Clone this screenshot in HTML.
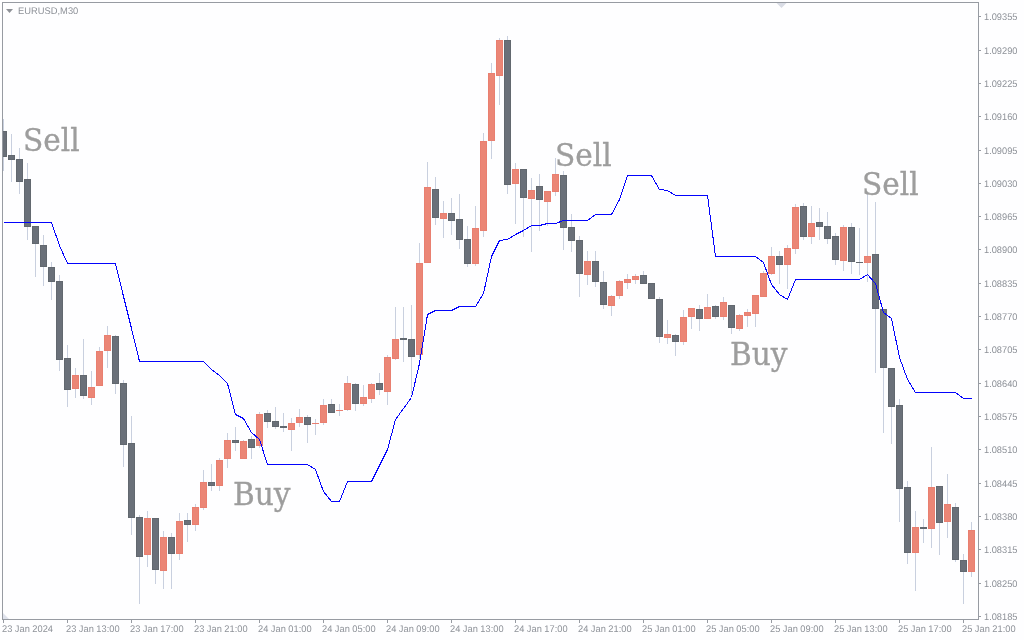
<!DOCTYPE html>
<html><head><meta charset="utf-8"><title>EURUSD,M30</title>
<style>
html,body{margin:0;padding:0;background:#fefeff;}
body{width:1024px;height:640px;position:relative;overflow:hidden;font-family:"Liberation Sans",sans-serif;}
.p,.t,.h{position:absolute;color:#8d9198;font-size:9.6px;line-height:12px;white-space:nowrap;transform-origin:0 50%;transform:scaleX(0.965);text-rendering:geometricPrecision}
.p{left:984.3px}
.t{top:624px}
.h{left:18px;top:6px;transform:scaleX(0.975)}
.s{position:absolute;font-family:"DejaVu Serif","Liberation Serif",serif;font-size:31px;line-height:50px;height:50px;color:#9d9d9d;white-space:nowrap;transform-origin:0 0;transform:scaleX(0.955);-webkit-text-stroke:0.35px #9d9d9d}
</style></head><body>
<svg width="1024" height="640" viewBox="0 0 1024 640" style="position:absolute;left:0;top:0">
<defs><clipPath id="cp"><rect x="3" y="3" width="975" height="616"/></clipPath></defs>
<g clip-path="url(#cp)" shape-rendering="crispEdges">
<rect x="3" y="119" width="1" height="52" fill="#c9d0df"/>
<rect x="11" y="134" width="1" height="48" fill="#c9d0df"/>
<rect x="19" y="148" width="1" height="46" fill="#c9d0df"/>
<rect x="27" y="163" width="1" height="77" fill="#c9d0df"/>
<rect x="35" y="226" width="1" height="51" fill="#c9d0df"/>
<rect x="43" y="235" width="1" height="51" fill="#c9d0df"/>
<rect x="51" y="262" width="1" height="38" fill="#c9d0df"/>
<rect x="59" y="275" width="1" height="96" fill="#c9d0df"/>
<rect x="67" y="345" width="1" height="62" fill="#c9d0df"/>
<rect x="75" y="368" width="1" height="30" fill="#c9d0df"/>
<rect x="83" y="339" width="1" height="60" fill="#c9d0df"/>
<rect x="91" y="371" width="1" height="34" fill="#c9d0df"/>
<rect x="99" y="347" width="1" height="39" fill="#c9d0df"/>
<rect x="107" y="326" width="1" height="42" fill="#c9d0df"/>
<rect x="115" y="335" width="1" height="59" fill="#c9d0df"/>
<rect x="123" y="380" width="1" height="87" fill="#c9d0df"/>
<rect x="131" y="416" width="1" height="119" fill="#c9d0df"/>
<rect x="139" y="515" width="1" height="89" fill="#c9d0df"/>
<rect x="147" y="511" width="1" height="56" fill="#c9d0df"/>
<rect x="155" y="518" width="1" height="66" fill="#c9d0df"/>
<rect x="163" y="531" width="1" height="58" fill="#c9d0df"/>
<rect x="171" y="533" width="1" height="56" fill="#c9d0df"/>
<rect x="179" y="513" width="1" height="47" fill="#c9d0df"/>
<rect x="187" y="513" width="1" height="29" fill="#c9d0df"/>
<rect x="195" y="504" width="1" height="27" fill="#c9d0df"/>
<rect x="203" y="470" width="1" height="40" fill="#c9d0df"/>
<rect x="211" y="464" width="1" height="27" fill="#c9d0df"/>
<rect x="219" y="458" width="1" height="33" fill="#c9d0df"/>
<rect x="227" y="433" width="1" height="35" fill="#c9d0df"/>
<rect x="235" y="427" width="1" height="24" fill="#c9d0df"/>
<rect x="243" y="440" width="1" height="19" fill="#c9d0df"/>
<rect x="251" y="436" width="1" height="23" fill="#c9d0df"/>
<rect x="259" y="412" width="1" height="36" fill="#c9d0df"/>
<rect x="267" y="410" width="1" height="18" fill="#c9d0df"/>
<rect x="275" y="407" width="1" height="22" fill="#c9d0df"/>
<rect x="283" y="413" width="1" height="19" fill="#c9d0df"/>
<rect x="291" y="418" width="1" height="33" fill="#c9d0df"/>
<rect x="299" y="409" width="1" height="18" fill="#c9d0df"/>
<rect x="307" y="415" width="1" height="28" fill="#c9d0df"/>
<rect x="315" y="419" width="1" height="16" fill="#c9d0df"/>
<rect x="323" y="399" width="1" height="26" fill="#c9d0df"/>
<rect x="331" y="399" width="1" height="14" fill="#c9d0df"/>
<rect x="339" y="404" width="1" height="12" fill="#c9d0df"/>
<rect x="347" y="376" width="1" height="35" fill="#c9d0df"/>
<rect x="355" y="383" width="1" height="28" fill="#c9d0df"/>
<rect x="363" y="385" width="1" height="21" fill="#c9d0df"/>
<rect x="371" y="383" width="1" height="20" fill="#c9d0df"/>
<rect x="379" y="373" width="1" height="22" fill="#c9d0df"/>
<rect x="387" y="355" width="1" height="50" fill="#c9d0df"/>
<rect x="395" y="307" width="1" height="53" fill="#c9d0df"/>
<rect x="403" y="307" width="1" height="55" fill="#c9d0df"/>
<rect x="411" y="305" width="1" height="89" fill="#c9d0df"/>
<rect x="419" y="243" width="1" height="116" fill="#c9d0df"/>
<rect x="427" y="162" width="1" height="101" fill="#c9d0df"/>
<rect x="435" y="177" width="1" height="48" fill="#c9d0df"/>
<rect x="443" y="201" width="1" height="37" fill="#c9d0df"/>
<rect x="451" y="198" width="1" height="37" fill="#c9d0df"/>
<rect x="459" y="194" width="1" height="55" fill="#c9d0df"/>
<rect x="467" y="226" width="1" height="41" fill="#c9d0df"/>
<rect x="475" y="206" width="1" height="60" fill="#c9d0df"/>
<rect x="483" y="133" width="1" height="104" fill="#c9d0df"/>
<rect x="491" y="63" width="1" height="96" fill="#c9d0df"/>
<rect x="499" y="38" width="1" height="67" fill="#c9d0df"/>
<rect x="507" y="36" width="1" height="158" fill="#c9d0df"/>
<rect x="515" y="163" width="1" height="61" fill="#c9d0df"/>
<rect x="523" y="169" width="1" height="68" fill="#c9d0df"/>
<rect x="531" y="178" width="1" height="74" fill="#c9d0df"/>
<rect x="539" y="174" width="1" height="57" fill="#c9d0df"/>
<rect x="547" y="191" width="1" height="35" fill="#c9d0df"/>
<rect x="555" y="158" width="1" height="38" fill="#c9d0df"/>
<rect x="563" y="171" width="1" height="79" fill="#c9d0df"/>
<rect x="571" y="214" width="1" height="38" fill="#c9d0df"/>
<rect x="579" y="236" width="1" height="61" fill="#c9d0df"/>
<rect x="587" y="251" width="1" height="34" fill="#c9d0df"/>
<rect x="595" y="251" width="1" height="36" fill="#c9d0df"/>
<rect x="603" y="271" width="1" height="38" fill="#c9d0df"/>
<rect x="611" y="295" width="1" height="21" fill="#c9d0df"/>
<rect x="619" y="280" width="1" height="19" fill="#c9d0df"/>
<rect x="627" y="274" width="1" height="15" fill="#c9d0df"/>
<rect x="635" y="274" width="1" height="10" fill="#c9d0df"/>
<rect x="643" y="271" width="1" height="13" fill="#c9d0df"/>
<rect x="651" y="283" width="1" height="16" fill="#c9d0df"/>
<rect x="659" y="297" width="1" height="46" fill="#c9d0df"/>
<rect x="667" y="320" width="1" height="24" fill="#c9d0df"/>
<rect x="675" y="334" width="1" height="22" fill="#c9d0df"/>
<rect x="683" y="310" width="1" height="35" fill="#c9d0df"/>
<rect x="691" y="308" width="1" height="21" fill="#c9d0df"/>
<rect x="699" y="305" width="1" height="26" fill="#c9d0df"/>
<rect x="707" y="294" width="1" height="25" fill="#c9d0df"/>
<rect x="715" y="305" width="1" height="14" fill="#c9d0df"/>
<rect x="723" y="297" width="1" height="23" fill="#c9d0df"/>
<rect x="731" y="305" width="1" height="29" fill="#c9d0df"/>
<rect x="739" y="314" width="1" height="17" fill="#c9d0df"/>
<rect x="747" y="309" width="1" height="18" fill="#c9d0df"/>
<rect x="755" y="295" width="1" height="32" fill="#c9d0df"/>
<rect x="763" y="271" width="1" height="26" fill="#c9d0df"/>
<rect x="771" y="247" width="1" height="28" fill="#c9d0df"/>
<rect x="779" y="251" width="1" height="33" fill="#c9d0df"/>
<rect x="787" y="245" width="1" height="44" fill="#c9d0df"/>
<rect x="795" y="204" width="1" height="50" fill="#c9d0df"/>
<rect x="803" y="203" width="1" height="37" fill="#c9d0df"/>
<rect x="811" y="206" width="1" height="38" fill="#c9d0df"/>
<rect x="819" y="208" width="1" height="32" fill="#c9d0df"/>
<rect x="827" y="212" width="1" height="32" fill="#c9d0df"/>
<rect x="835" y="233" width="1" height="32" fill="#c9d0df"/>
<rect x="843" y="225" width="1" height="46" fill="#c9d0df"/>
<rect x="851" y="223" width="1" height="51" fill="#c9d0df"/>
<rect x="859" y="228" width="1" height="47" fill="#c9d0df"/>
<rect x="867" y="192" width="1" height="90" fill="#c9d0df"/>
<rect x="875" y="202" width="1" height="171" fill="#c9d0df"/>
<rect x="883" y="309" width="1" height="124" fill="#c9d0df"/>
<rect x="891" y="368" width="1" height="76" fill="#c9d0df"/>
<rect x="899" y="399" width="1" height="123" fill="#c9d0df"/>
<rect x="907" y="481" width="1" height="83" fill="#c9d0df"/>
<rect x="915" y="511" width="1" height="80" fill="#c9d0df"/>
<rect x="923" y="519" width="1" height="24" fill="#c9d0df"/>
<rect x="931" y="447" width="1" height="101" fill="#c9d0df"/>
<rect x="939" y="486" width="1" height="69" fill="#c9d0df"/>
<rect x="947" y="474" width="1" height="64" fill="#c9d0df"/>
<rect x="955" y="503" width="1" height="59" fill="#c9d0df"/>
<rect x="963" y="554" width="1" height="50" fill="#c9d0df"/>
<rect x="971" y="522" width="1" height="55" fill="#c9d0df"/>
<rect x="0" y="131" width="7" height="26" fill="#62686f"/>
<rect x="1" y="132" width="5" height="24" fill="#6a7079"/>
<rect x="8" y="155" width="7" height="5" fill="#62686f"/>
<rect x="9" y="156" width="5" height="3" fill="#6a7079"/>
<rect x="16" y="159" width="7" height="23" fill="#62686f"/>
<rect x="17" y="160" width="5" height="21" fill="#6a7079"/>
<rect x="24" y="179" width="7" height="48" fill="#62686f"/>
<rect x="25" y="180" width="5" height="46" fill="#6a7079"/>
<rect x="32" y="226" width="7" height="18" fill="#62686f"/>
<rect x="33" y="227" width="5" height="16" fill="#6a7079"/>
<rect x="40" y="245" width="7" height="22" fill="#62686f"/>
<rect x="41" y="246" width="5" height="20" fill="#6a7079"/>
<rect x="48" y="267" width="7" height="15" fill="#62686f"/>
<rect x="49" y="268" width="5" height="13" fill="#6a7079"/>
<rect x="56" y="281" width="7" height="79" fill="#62686f"/>
<rect x="57" y="282" width="5" height="77" fill="#6a7079"/>
<rect x="64" y="358" width="7" height="32" fill="#62686f"/>
<rect x="65" y="359" width="5" height="30" fill="#6a7079"/>
<rect x="72" y="375" width="7" height="14" fill="#e97f70"/>
<rect x="73" y="376" width="5" height="12" fill="#eb8676"/>
<rect x="80" y="375" width="7" height="21" fill="#62686f"/>
<rect x="81" y="376" width="5" height="19" fill="#6a7079"/>
<rect x="88" y="387" width="7" height="11" fill="#e97f70"/>
<rect x="89" y="388" width="5" height="9" fill="#eb8676"/>
<rect x="96" y="351" width="7" height="35" fill="#e97f70"/>
<rect x="97" y="352" width="5" height="33" fill="#eb8676"/>
<rect x="104" y="335" width="7" height="16" fill="#e97f70"/>
<rect x="105" y="336" width="5" height="14" fill="#eb8676"/>
<rect x="112" y="336" width="7" height="48" fill="#62686f"/>
<rect x="113" y="337" width="5" height="46" fill="#6a7079"/>
<rect x="120" y="383" width="7" height="62" fill="#62686f"/>
<rect x="121" y="384" width="5" height="60" fill="#6a7079"/>
<rect x="128" y="443" width="7" height="75" fill="#62686f"/>
<rect x="129" y="444" width="5" height="73" fill="#6a7079"/>
<rect x="136" y="517" width="7" height="40" fill="#62686f"/>
<rect x="137" y="518" width="5" height="38" fill="#6a7079"/>
<rect x="144" y="518" width="7" height="37" fill="#e97f70"/>
<rect x="145" y="519" width="5" height="35" fill="#eb8676"/>
<rect x="152" y="518" width="7" height="52" fill="#62686f"/>
<rect x="153" y="519" width="5" height="50" fill="#6a7079"/>
<rect x="160" y="537" width="7" height="34" fill="#e97f70"/>
<rect x="161" y="538" width="5" height="32" fill="#eb8676"/>
<rect x="168" y="537" width="7" height="17" fill="#62686f"/>
<rect x="169" y="538" width="5" height="15" fill="#6a7079"/>
<rect x="176" y="521" width="7" height="33" fill="#e97f70"/>
<rect x="177" y="522" width="5" height="31" fill="#eb8676"/>
<rect x="184" y="520" width="7" height="5" fill="#62686f"/>
<rect x="185" y="521" width="5" height="3" fill="#6a7079"/>
<rect x="192" y="507" width="7" height="18" fill="#e97f70"/>
<rect x="193" y="508" width="5" height="16" fill="#eb8676"/>
<rect x="200" y="482" width="7" height="26" fill="#e97f70"/>
<rect x="201" y="483" width="5" height="24" fill="#eb8676"/>
<rect x="208" y="482" width="7" height="4" fill="#62686f"/>
<rect x="209" y="483" width="5" height="2" fill="#6a7079"/>
<rect x="216" y="460" width="7" height="26" fill="#e97f70"/>
<rect x="217" y="461" width="5" height="24" fill="#eb8676"/>
<rect x="224" y="440" width="7" height="19" fill="#e97f70"/>
<rect x="225" y="441" width="5" height="17" fill="#eb8676"/>
<rect x="232" y="440" width="7" height="3" fill="#62686f"/>
<rect x="233" y="441" width="5" height="1" fill="#6a7079"/>
<rect x="240" y="441" width="7" height="18" fill="#e97f70"/>
<rect x="241" y="442" width="5" height="16" fill="#eb8676"/>
<rect x="248" y="439" width="7" height="9" fill="#62686f"/>
<rect x="249" y="440" width="5" height="7" fill="#6a7079"/>
<rect x="256" y="414" width="7" height="32" fill="#e97f70"/>
<rect x="257" y="415" width="5" height="30" fill="#eb8676"/>
<rect x="264" y="413" width="7" height="9" fill="#62686f"/>
<rect x="265" y="414" width="5" height="7" fill="#6a7079"/>
<rect x="272" y="421" width="7" height="6" fill="#62686f"/>
<rect x="273" y="422" width="5" height="4" fill="#6a7079"/>
<rect x="280" y="426" width="7" height="2" fill="#62686f"/>
<rect x="288" y="423" width="7" height="7" fill="#e97f70"/>
<rect x="289" y="424" width="5" height="5" fill="#eb8676"/>
<rect x="296" y="417" width="7" height="6" fill="#e97f70"/>
<rect x="297" y="418" width="5" height="4" fill="#eb8676"/>
<rect x="304" y="417" width="7" height="8" fill="#62686f"/>
<rect x="305" y="418" width="5" height="6" fill="#6a7079"/>
<rect x="312" y="423" width="7" height="1" fill="#e97f70"/>
<rect x="320" y="405" width="7" height="18" fill="#e97f70"/>
<rect x="321" y="406" width="5" height="16" fill="#eb8676"/>
<rect x="328" y="404" width="7" height="9" fill="#62686f"/>
<rect x="329" y="405" width="5" height="7" fill="#6a7079"/>
<rect x="336" y="410" width="7" height="1" fill="#e97f70"/>
<rect x="344" y="383" width="7" height="27" fill="#e97f70"/>
<rect x="345" y="384" width="5" height="25" fill="#eb8676"/>
<rect x="352" y="384" width="7" height="20" fill="#62686f"/>
<rect x="353" y="385" width="5" height="18" fill="#6a7079"/>
<rect x="360" y="397" width="7" height="7" fill="#e97f70"/>
<rect x="361" y="398" width="5" height="5" fill="#eb8676"/>
<rect x="368" y="384" width="7" height="15" fill="#e97f70"/>
<rect x="369" y="385" width="5" height="13" fill="#eb8676"/>
<rect x="376" y="383" width="7" height="7" fill="#62686f"/>
<rect x="377" y="384" width="5" height="5" fill="#6a7079"/>
<rect x="384" y="357" width="7" height="35" fill="#e97f70"/>
<rect x="385" y="358" width="5" height="33" fill="#eb8676"/>
<rect x="392" y="339" width="7" height="20" fill="#e97f70"/>
<rect x="393" y="340" width="5" height="18" fill="#eb8676"/>
<rect x="400" y="338" width="7" height="2" fill="#62686f"/>
<rect x="408" y="339" width="7" height="18" fill="#62686f"/>
<rect x="409" y="340" width="5" height="16" fill="#6a7079"/>
<rect x="416" y="263" width="7" height="92" fill="#e97f70"/>
<rect x="417" y="264" width="5" height="90" fill="#eb8676"/>
<rect x="424" y="187" width="7" height="76" fill="#e97f70"/>
<rect x="425" y="188" width="5" height="74" fill="#eb8676"/>
<rect x="432" y="189" width="7" height="29" fill="#62686f"/>
<rect x="433" y="190" width="5" height="27" fill="#6a7079"/>
<rect x="440" y="213" width="7" height="6" fill="#e97f70"/>
<rect x="441" y="214" width="5" height="4" fill="#eb8676"/>
<rect x="448" y="213" width="7" height="8" fill="#62686f"/>
<rect x="449" y="214" width="5" height="6" fill="#6a7079"/>
<rect x="456" y="219" width="7" height="21" fill="#62686f"/>
<rect x="457" y="220" width="5" height="19" fill="#6a7079"/>
<rect x="464" y="239" width="7" height="25" fill="#62686f"/>
<rect x="465" y="240" width="5" height="23" fill="#6a7079"/>
<rect x="472" y="228" width="7" height="36" fill="#e97f70"/>
<rect x="473" y="229" width="5" height="34" fill="#eb8676"/>
<rect x="480" y="141" width="7" height="90" fill="#e97f70"/>
<rect x="481" y="142" width="5" height="88" fill="#eb8676"/>
<rect x="488" y="73" width="7" height="68" fill="#e97f70"/>
<rect x="489" y="74" width="5" height="66" fill="#eb8676"/>
<rect x="496" y="40" width="7" height="36" fill="#e97f70"/>
<rect x="497" y="41" width="5" height="34" fill="#eb8676"/>
<rect x="504" y="40" width="7" height="145" fill="#62686f"/>
<rect x="505" y="41" width="5" height="143" fill="#6a7079"/>
<rect x="512" y="169" width="7" height="15" fill="#e97f70"/>
<rect x="513" y="170" width="5" height="13" fill="#eb8676"/>
<rect x="520" y="169" width="7" height="29" fill="#62686f"/>
<rect x="521" y="170" width="5" height="27" fill="#6a7079"/>
<rect x="528" y="190" width="7" height="9" fill="#e97f70"/>
<rect x="529" y="191" width="5" height="7" fill="#eb8676"/>
<rect x="536" y="186" width="7" height="14" fill="#62686f"/>
<rect x="537" y="187" width="5" height="12" fill="#6a7079"/>
<rect x="544" y="191" width="7" height="11" fill="#e97f70"/>
<rect x="545" y="192" width="5" height="9" fill="#eb8676"/>
<rect x="552" y="174" width="7" height="18" fill="#e97f70"/>
<rect x="553" y="175" width="5" height="16" fill="#eb8676"/>
<rect x="560" y="175" width="7" height="53" fill="#62686f"/>
<rect x="561" y="176" width="5" height="51" fill="#6a7079"/>
<rect x="568" y="227" width="7" height="14" fill="#62686f"/>
<rect x="569" y="228" width="5" height="12" fill="#6a7079"/>
<rect x="576" y="240" width="7" height="34" fill="#62686f"/>
<rect x="577" y="241" width="5" height="32" fill="#6a7079"/>
<rect x="584" y="261" width="7" height="14" fill="#e97f70"/>
<rect x="585" y="262" width="5" height="12" fill="#eb8676"/>
<rect x="592" y="261" width="7" height="21" fill="#62686f"/>
<rect x="593" y="262" width="5" height="19" fill="#6a7079"/>
<rect x="600" y="282" width="7" height="23" fill="#62686f"/>
<rect x="601" y="283" width="5" height="21" fill="#6a7079"/>
<rect x="608" y="296" width="7" height="10" fill="#e97f70"/>
<rect x="609" y="297" width="5" height="8" fill="#eb8676"/>
<rect x="616" y="281" width="7" height="15" fill="#e97f70"/>
<rect x="617" y="282" width="5" height="13" fill="#eb8676"/>
<rect x="624" y="279" width="7" height="4" fill="#e97f70"/>
<rect x="625" y="280" width="5" height="2" fill="#eb8676"/>
<rect x="632" y="276" width="7" height="4" fill="#e97f70"/>
<rect x="633" y="277" width="5" height="2" fill="#eb8676"/>
<rect x="640" y="275" width="7" height="9" fill="#62686f"/>
<rect x="641" y="276" width="5" height="7" fill="#6a7079"/>
<rect x="648" y="283" width="7" height="16" fill="#62686f"/>
<rect x="649" y="284" width="5" height="14" fill="#6a7079"/>
<rect x="656" y="299" width="7" height="38" fill="#62686f"/>
<rect x="657" y="300" width="5" height="36" fill="#6a7079"/>
<rect x="664" y="334" width="7" height="4" fill="#e97f70"/>
<rect x="665" y="335" width="5" height="2" fill="#eb8676"/>
<rect x="672" y="335" width="7" height="7" fill="#62686f"/>
<rect x="673" y="336" width="5" height="5" fill="#6a7079"/>
<rect x="680" y="317" width="7" height="25" fill="#e97f70"/>
<rect x="681" y="318" width="5" height="23" fill="#eb8676"/>
<rect x="688" y="308" width="7" height="9" fill="#e97f70"/>
<rect x="689" y="309" width="5" height="7" fill="#eb8676"/>
<rect x="696" y="309" width="7" height="10" fill="#62686f"/>
<rect x="697" y="310" width="5" height="8" fill="#6a7079"/>
<rect x="704" y="307" width="7" height="12" fill="#e97f70"/>
<rect x="705" y="308" width="5" height="10" fill="#eb8676"/>
<rect x="712" y="306" width="7" height="11" fill="#62686f"/>
<rect x="713" y="307" width="5" height="9" fill="#6a7079"/>
<rect x="720" y="302" width="7" height="15" fill="#e97f70"/>
<rect x="721" y="303" width="5" height="13" fill="#eb8676"/>
<rect x="728" y="305" width="7" height="23" fill="#62686f"/>
<rect x="729" y="306" width="5" height="21" fill="#6a7079"/>
<rect x="736" y="315" width="7" height="14" fill="#e97f70"/>
<rect x="737" y="316" width="5" height="12" fill="#eb8676"/>
<rect x="744" y="312" width="7" height="4" fill="#e97f70"/>
<rect x="745" y="313" width="5" height="2" fill="#eb8676"/>
<rect x="752" y="295" width="7" height="19" fill="#e97f70"/>
<rect x="753" y="296" width="5" height="17" fill="#eb8676"/>
<rect x="760" y="273" width="7" height="24" fill="#e97f70"/>
<rect x="761" y="274" width="5" height="22" fill="#eb8676"/>
<rect x="768" y="256" width="7" height="18" fill="#e97f70"/>
<rect x="769" y="257" width="5" height="16" fill="#eb8676"/>
<rect x="776" y="256" width="7" height="9" fill="#62686f"/>
<rect x="777" y="257" width="5" height="7" fill="#6a7079"/>
<rect x="784" y="248" width="7" height="17" fill="#e97f70"/>
<rect x="785" y="249" width="5" height="15" fill="#eb8676"/>
<rect x="792" y="207" width="7" height="42" fill="#e97f70"/>
<rect x="793" y="208" width="5" height="40" fill="#eb8676"/>
<rect x="800" y="206" width="7" height="31" fill="#62686f"/>
<rect x="801" y="207" width="5" height="29" fill="#6a7079"/>
<rect x="808" y="223" width="7" height="14" fill="#e97f70"/>
<rect x="809" y="224" width="5" height="12" fill="#eb8676"/>
<rect x="816" y="222" width="7" height="5" fill="#62686f"/>
<rect x="817" y="223" width="5" height="3" fill="#6a7079"/>
<rect x="824" y="226" width="7" height="13" fill="#62686f"/>
<rect x="825" y="227" width="5" height="11" fill="#6a7079"/>
<rect x="832" y="236" width="7" height="24" fill="#62686f"/>
<rect x="833" y="237" width="5" height="22" fill="#6a7079"/>
<rect x="840" y="227" width="7" height="34" fill="#e97f70"/>
<rect x="841" y="228" width="5" height="32" fill="#eb8676"/>
<rect x="848" y="227" width="7" height="35" fill="#62686f"/>
<rect x="849" y="228" width="5" height="33" fill="#6a7079"/>
<rect x="856" y="262" width="7" height="1" fill="#62686f"/>
<rect x="864" y="256" width="7" height="7" fill="#e97f70"/>
<rect x="865" y="257" width="5" height="5" fill="#eb8676"/>
<rect x="872" y="254" width="7" height="55" fill="#62686f"/>
<rect x="873" y="255" width="5" height="53" fill="#6a7079"/>
<rect x="880" y="309" width="7" height="59" fill="#62686f"/>
<rect x="881" y="310" width="5" height="57" fill="#6a7079"/>
<rect x="888" y="368" width="7" height="39" fill="#62686f"/>
<rect x="889" y="369" width="5" height="37" fill="#6a7079"/>
<rect x="896" y="405" width="7" height="84" fill="#62686f"/>
<rect x="897" y="406" width="5" height="82" fill="#6a7079"/>
<rect x="904" y="487" width="7" height="66" fill="#62686f"/>
<rect x="905" y="488" width="5" height="64" fill="#6a7079"/>
<rect x="912" y="527" width="7" height="26" fill="#e97f70"/>
<rect x="913" y="528" width="5" height="24" fill="#eb8676"/>
<rect x="920" y="527" width="7" height="2" fill="#62686f"/>
<rect x="928" y="487" width="7" height="42" fill="#e97f70"/>
<rect x="929" y="488" width="5" height="40" fill="#eb8676"/>
<rect x="936" y="486" width="7" height="37" fill="#62686f"/>
<rect x="937" y="487" width="5" height="35" fill="#6a7079"/>
<rect x="944" y="504" width="7" height="18" fill="#e97f70"/>
<rect x="945" y="505" width="5" height="16" fill="#eb8676"/>
<rect x="952" y="507" width="7" height="53" fill="#62686f"/>
<rect x="953" y="508" width="5" height="51" fill="#6a7079"/>
<rect x="960" y="560" width="7" height="12" fill="#62686f"/>
<rect x="961" y="561" width="5" height="10" fill="#6a7079"/>
<rect x="968" y="530" width="7" height="42" fill="#e97f70"/>
<rect x="969" y="531" width="5" height="40" fill="#eb8676"/>
</g>
<polyline points="3.5,222.5 51.5,222.5 59.5,245.5 67.5,263.5 115.5,263.5 123.5,296.5 131.5,328.5 139.5,361.5 203.5,361.5 211.5,369.5 219.5,375.5 227.5,383.5 235.5,414.5 243.5,418.5 251.5,432.5 259.5,439.5 267.5,464.5 307.5,464.5 315.5,469.5 323.5,491.5 331.5,501.5 339.5,501.5 347.5,481.5 371.5,481.5 379.5,465.5 387.5,449.5 395.5,419.5 403.5,408.5 411.5,397.5 419.5,363.5 427.5,314.5 435.5,310.5 451.5,310.5 459.5,306.5 475.5,306.5 483.5,293.5 491.5,256.5 499.5,240.5 507.5,239.5 515.5,234.5 523.5,230.5 531.5,225.5 539.5,225.5 547.5,223.5 555.5,223.5 563.5,220.5 587.5,220.5 595.5,214.5 611.5,214.5 619.5,199.5 627.5,175.5 651.5,175.5 659.5,189.5 667.5,190.5 675.5,195.5 707.5,195.5 715.5,256.5 755.5,256.5 763.5,262.5 771.5,284.5 779.5,294.5 787.5,299.5 795.5,279.5 859.5,279.5 867.5,274.5 875.5,283.5 883.5,312.5 891.5,318.5 899.5,357.5 907.5,379.5 915.5,392.5 955.5,392.5 963.5,398.5 971.5,398.5" fill="none" stroke="#0404fc" stroke-width="1" shape-rendering="crispEdges" clip-path="url(#cp)"/>
<g shape-rendering="crispEdges" fill="#979ba2">
<rect x="2" y="2" width="977" height="1"/>
<rect x="2" y="2" width="1" height="618"/>
<rect x="978" y="2" width="1" height="618"/>
<rect x="2" y="619" width="977" height="1"/>
<rect x="3" y="620" width="1" height="3"/>
<rect x="67" y="620" width="1" height="3"/>
<rect x="131" y="620" width="1" height="3"/>
<rect x="195" y="620" width="1" height="3"/>
<rect x="259" y="620" width="1" height="3"/>
<rect x="323" y="620" width="1" height="3"/>
<rect x="387" y="620" width="1" height="3"/>
<rect x="451" y="620" width="1" height="3"/>
<rect x="515" y="620" width="1" height="3"/>
<rect x="579" y="620" width="1" height="3"/>
<rect x="643" y="620" width="1" height="3"/>
<rect x="707" y="620" width="1" height="3"/>
<rect x="771" y="620" width="1" height="3"/>
<rect x="835" y="620" width="1" height="3"/>
<rect x="899" y="620" width="1" height="3"/>
<rect x="963" y="620" width="1" height="3"/>
<rect x="979" y="16" width="2" height="1"/>
<rect x="979" y="50" width="2" height="1"/>
<rect x="979" y="83" width="2" height="1"/>
<rect x="979" y="116" width="2" height="1"/>
<rect x="979" y="150" width="2" height="1"/>
<rect x="979" y="183" width="2" height="1"/>
<rect x="979" y="216" width="2" height="1"/>
<rect x="979" y="249" width="2" height="1"/>
<rect x="979" y="283" width="2" height="1"/>
<rect x="979" y="316" width="2" height="1"/>
<rect x="979" y="349" width="2" height="1"/>
<rect x="979" y="383" width="2" height="1"/>
<rect x="979" y="416" width="2" height="1"/>
<rect x="979" y="449" width="2" height="1"/>
<rect x="979" y="483" width="2" height="1"/>
<rect x="979" y="516" width="2" height="1"/>
<rect x="979" y="549" width="2" height="1"/>
<rect x="979" y="583" width="2" height="1"/>
<rect x="979" y="616" width="2" height="1"/>
</g>
<polygon points="776.5,3 786.5,3 781.5,8" fill="#d9dce5"/>
<polygon points="3,613 3,619 9,619" fill="#dfe2ec"/>
<polygon points="6,9 13,9 9.5,13" fill="#8e9197"/>
</svg>
<div class="h">EURUSD,M30</div>
<div class="p" style="top:12px">1.09355</div><div class="p" style="top:46px">1.09290</div><div class="p" style="top:79px">1.09225</div><div class="p" style="top:112px">1.09160</div><div class="p" style="top:146px">1.09095</div><div class="p" style="top:179px">1.09030</div><div class="p" style="top:212px">1.08965</div><div class="p" style="top:245px">1.08900</div><div class="p" style="top:279px">1.08835</div><div class="p" style="top:312px">1.08770</div><div class="p" style="top:345px">1.08705</div><div class="p" style="top:379px">1.08640</div><div class="p" style="top:412px">1.08575</div><div class="p" style="top:445px">1.08510</div><div class="p" style="top:479px">1.08445</div><div class="p" style="top:512px">1.08380</div><div class="p" style="top:545px">1.08315</div><div class="p" style="top:579px">1.08250</div><div class="p" style="top:612px">1.08185</div>
<div class="t" style="left:2px">23 Jan 2024</div><div class="t" style="left:66px">23 Jan 13:00</div><div class="t" style="left:130px">23 Jan 17:00</div><div class="t" style="left:194px">23 Jan 21:00</div><div class="t" style="left:258px">24 Jan 01:00</div><div class="t" style="left:322px">24 Jan 05:00</div><div class="t" style="left:386px">24 Jan 09:00</div><div class="t" style="left:450px">24 Jan 13:00</div><div class="t" style="left:514px">24 Jan 17:00</div><div class="t" style="left:578px">24 Jan 21:00</div><div class="t" style="left:642px">25 Jan 01:00</div><div class="t" style="left:706px">25 Jan 05:00</div><div class="t" style="left:770px">25 Jan 09:00</div><div class="t" style="left:834px">25 Jan 13:00</div><div class="t" style="left:898px">25 Jan 17:00</div><div class="t" style="left:962px">25 Jan 21:00</div>
<div class="s" style="left:23.0px;top:115px">Sell</div><div class="s" style="left:232.8px;top:469px">Buy</div><div class="s" style="left:555.0px;top:130px">Sell</div><div class="s" style="left:729.8px;top:329px">Buy</div><div class="s" style="left:862.0px;top:158.7px">Sell</div>
</body></html>
